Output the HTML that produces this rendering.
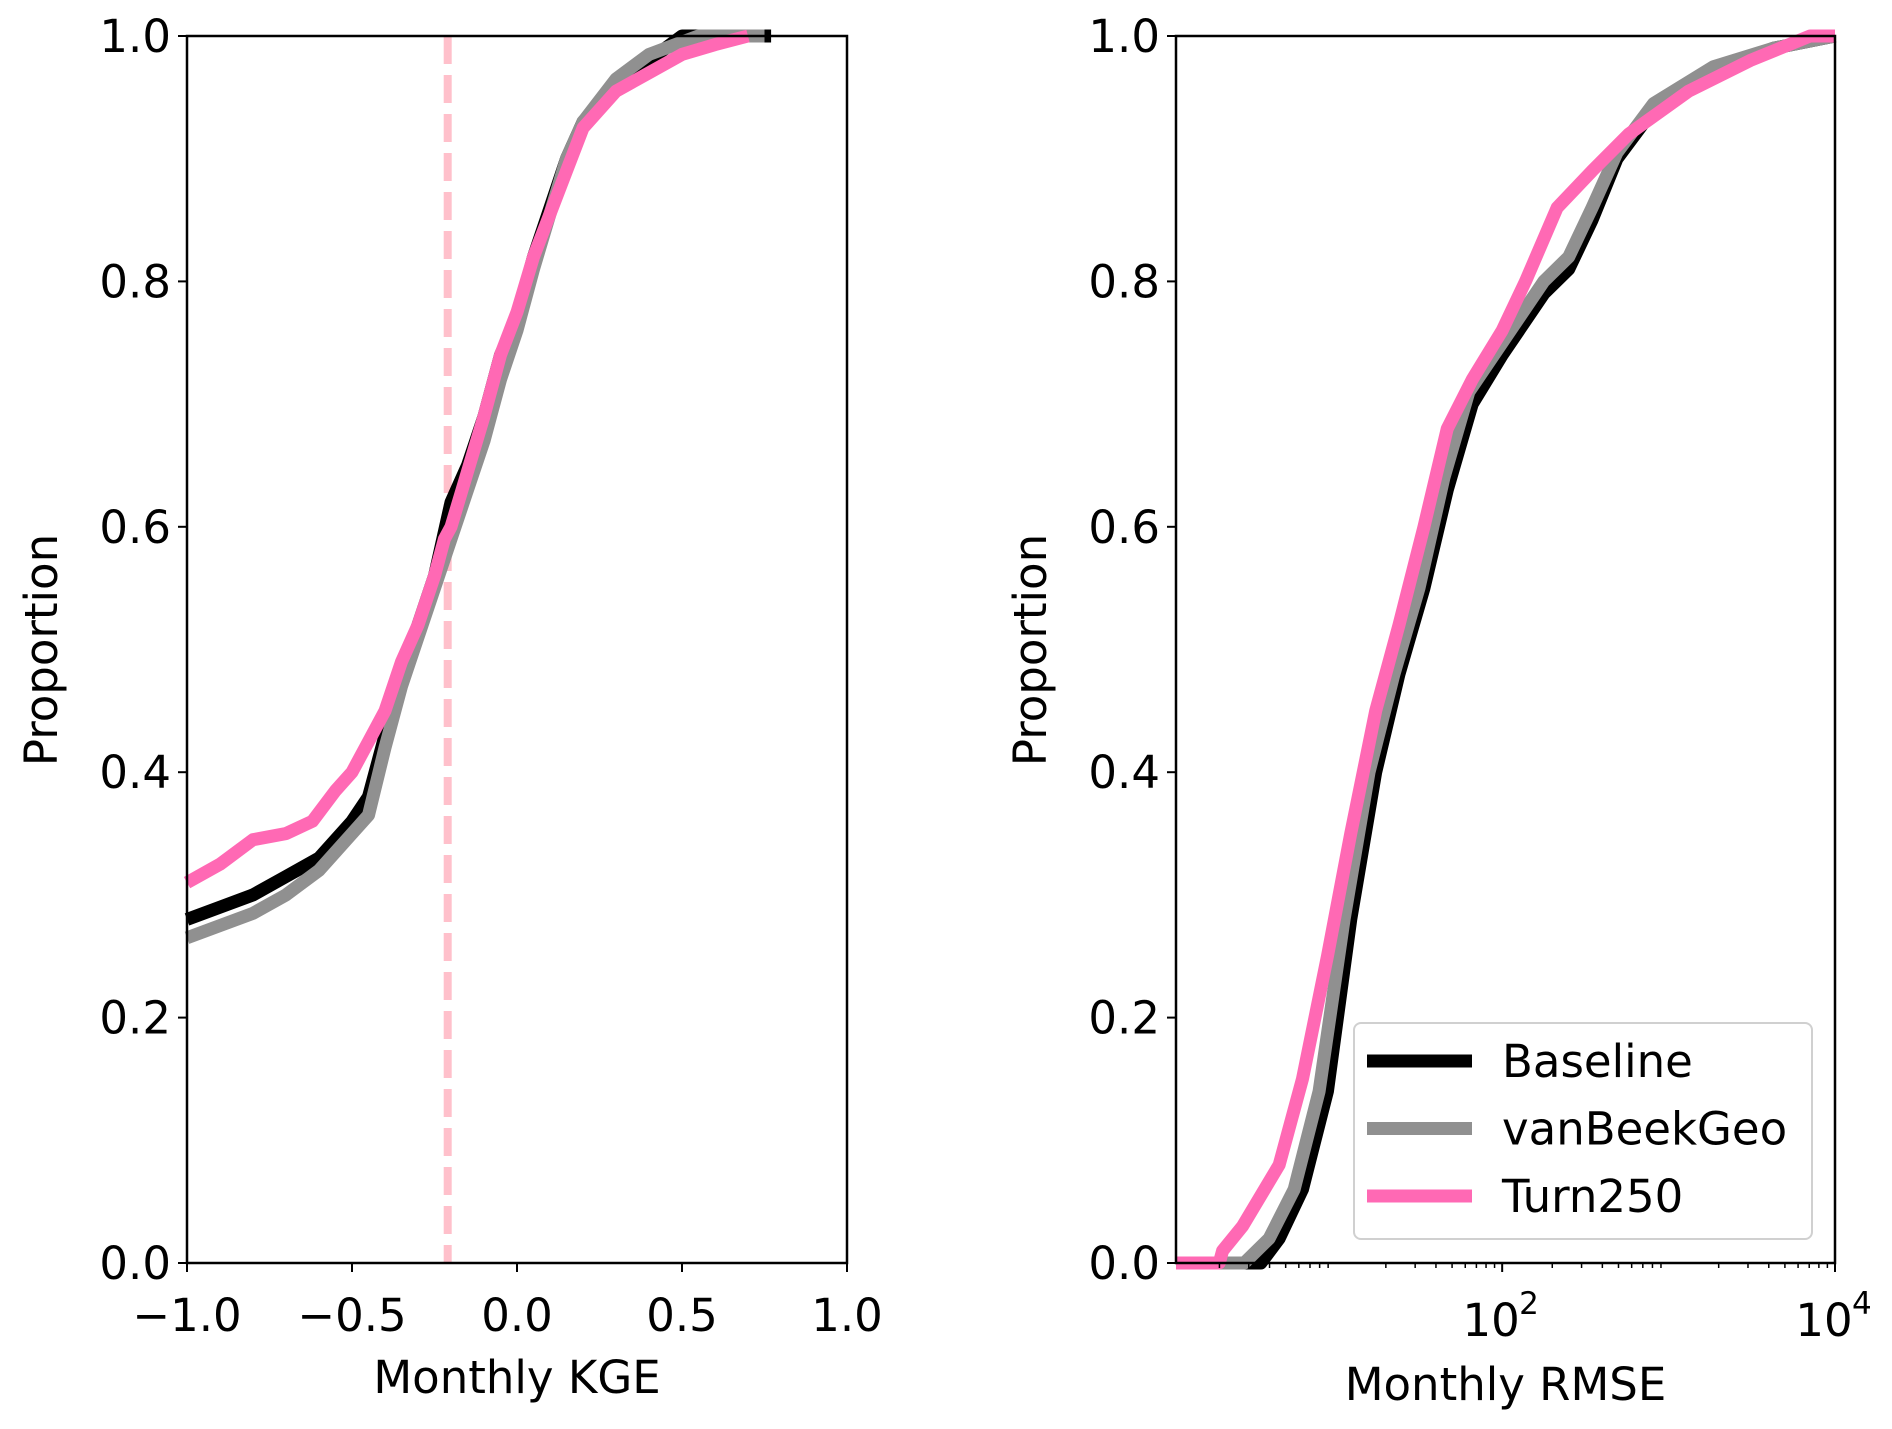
<!DOCTYPE html>
<html><head><meta charset="utf-8"><style>
html,body{margin:0;padding:0;background:#fff;}
svg{display:block;font-family:"DejaVu Sans","Liberation Sans",sans-serif;}
</style></head><body>
<svg id="fig" width="1892" height="1429" viewBox="0 0 1892 1429" xmlns="http://www.w3.org/2000/svg">
<g id="left"></g>
<g id="right"></g>
</svg>
<script>
const kgeBaseX=[-1,-0.9,-0.8,-0.7,-0.6,-0.5,-0.45,-0.4,-0.35,-0.3,-0.25,-0.2,-0.15,-0.1,-0.05,0,0.05,0.1,0.15,0.2,0.3,0.4,0.45,0.5,0.77];
const kgeBaseY=[0.28,0.29,0.30,0.315,0.33,0.36,0.38,0.43,0.48,0.52,0.56,0.62,0.65,0.69,0.74,0.77,0.82,0.86,0.9,0.93,0.96,0.98,0.99,1.0,1.0];
const kgeVanX=[-1,-0.9,-0.8,-0.7,-0.6,-0.5,-0.45,-0.4,-0.35,-0.3,-0.25,-0.2,-0.15,-0.1,-0.05,0,0.05,0.1,0.15,0.2,0.3,0.4,0.5,0.55,0.75];
const kgeVanY=[0.265,0.275,0.285,0.30,0.32,0.35,0.365,0.42,0.47,0.51,0.55,0.59,0.63,0.67,0.72,0.76,0.81,0.855,0.9,0.93,0.965,0.985,0.995,1.0,1.0];
const kgeTurnX=[-1,-0.9,-0.8,-0.7,-0.62,-0.55,-0.5,-0.45,-0.4,-0.35,-0.3,-0.25,-0.22,-0.2,-0.15,-0.1,-0.05,0,0.05,0.1,0.15,0.2,0.3,0.4,0.5,0.6,0.7];
const kgeTurnY=[0.31,0.325,0.345,0.35,0.36,0.385,0.40,0.425,0.45,0.49,0.52,0.56,0.59,0.6,0.645,0.69,0.74,0.775,0.82,0.855,0.89,0.925,0.955,0.97,0.985,0.993,1.0];
const kgeThreshold=-0.21;
const rmseTurnLog=[0.04,0.3,0.32,0.44,0.66,0.80,0.95,1.09,1.24,1.38,1.53,1.67,1.82,2.0,2.14,2.33,2.54,2.76,3.12,3.49,3.85,4];
const rmseTurnY=[0,0,0.01,0.03,0.08,0.15,0.25,0.35,0.45,0.52,0.6,0.68,0.72,0.76,0.8,0.86,0.89,0.92,0.955,0.98,1.0,1.0];
const rmseBaseLog=[0.04,0.55,0.66,0.80,0.95,1.09,1.24,1.38,1.53,1.67,1.82,2.0,2.25,2.4,2.54,2.69,2.91,3.27,3.63,4];
const rmseBaseY=[0,0,0.02,0.06,0.14,0.28,0.4,0.48,0.55,0.63,0.7,0.74,0.79,0.81,0.85,0.9,0.94,0.97,0.99,1.0];
const rmseVanLog=[0.04,0.45,0.6,0.75,0.9,1.05,1.2,1.35,1.5,1.65,1.8,2.0,2.25,2.4,2.54,2.69,2.91,3.27,3.63,4];
const rmseVanY=[0,0,0.02,0.06,0.14,0.28,0.4,0.48,0.55,0.64,0.71,0.75,0.8,0.82,0.86,0.905,0.945,0.975,0.99,1.0];
const yTicks=[0,0.2,0.4,0.6,0.8,1.0];
const yTickLabels=["0.0","0.2","0.4","0.6","0.8","1.0"];
const kgeTicks=[-1,-0.5,0,0.5,1];
const kgeTickLabels=["\u22121.0","\u22120.5","0.0","0.5","1.0"];
const rmseTicks=[2,4];
const seriesNames=["Baseline","vanBeekGeo","Turn250"];
const seriesColors=["#000000","#909090","#ff69b4"];

const NS="http://www.w3.org/2000/svg";
const FS=45;
function mk(p,tag,attrs){const e=document.createElementNS(NS,tag);for(const k in attrs)e.setAttribute(k,attrs[k]);p.appendChild(e);return e;}
const Y0=1263,Y1=36;
const sy=v=>Y0+(Y1-Y0)*v;
const L={x0:187,x1:847}, R={x0:1176,x1:1835};
const sxL=v=>L.x0+(v+1)/2*(L.x1-L.x0);
const sxR=l=>R.x0+(l-0.04)/(4-0.04)*(R.x1-R.x0);
function line(xs,ys,fx){return xs.map((x,i)=>(i?"L":"M")+fx(x)+","+sy(ys[i])).join(" ");}
function axes(g,P){
  yTicks.forEach((t,i)=>{
    const tk=mk(g,"line",{x1:P.x0-9,x2:P.x0,y1:sy(t),y2:sy(t),stroke:"#000","stroke-width":2});
    
    
    const tx=mk(g,"text",{x:P.x0-16,y:sy(t)+16,"text-anchor":"end","font-size":FS});
    tx.textContent=yTickLabels[i];
    
    
  });
  const yl=mk(g,"text",{x:0,y:0,"text-anchor":"middle","font-size":FS,transform:`translate(${P.x0-130},650) rotate(-90)`});
  yl.textContent="Proportion";
  
  
}
function frame(g,P){const r=mk(g,"rect",{x:P.x0,y:Y1,width:P.x1-P.x0,height:Y0-Y1,fill:"none",stroke:"#000","stroke-width":2.5});

}

// left
const gl=document.getElementById("left");
const dash=mk(gl,"line",{x1:sxL(kgeThreshold),x2:sxL(kgeThreshold),y1:Y1,y2:Y0,stroke:"#ffc0cb","stroke-width":8,"stroke-dasharray":"28,11"});


[[kgeBaseX,kgeBaseY],[kgeVanX,kgeVanY],[kgeTurnX,kgeTurnY]].forEach((s,i)=>{
  const p=mk(gl,"path",{d:line(s[0],s[1],sxL),fill:"none",stroke:seriesColors[i],"stroke-width":13,"stroke-linejoin":"round"});
  
  
});
frame(gl,L);axes(gl,L);
kgeTicks.forEach((t,i)=>{
  const tk=mk(gl,"line",{x1:sxL(t),x2:sxL(t),y1:Y0,y2:Y0+9,stroke:"#000","stroke-width":2});
  
  
  const tx=mk(gl,"text",{x:sxL(t),y:1331,"text-anchor":"middle","font-size":FS});
  tx.textContent=kgeTickLabels[i];
  
  
});
const xl=mk(gl,"text",{x:(L.x0+L.x1)/2,y:1393,"text-anchor":"middle","font-size":FS});
xl.textContent="Monthly KGE";



// right
const gr=document.getElementById("right");
[[rmseBaseLog,rmseBaseY],[rmseVanLog,rmseVanY],[rmseTurnLog,rmseTurnY]].forEach((s,i)=>{
  const p=mk(gr,"path",{d:line(s[0],s[1],sxR),fill:"none",stroke:seriesColors[i],"stroke-width":13,"stroke-linejoin":"round"});
  
  
});
frame(gr,R);axes(gr,R);
rmseTicks.forEach(t=>{
  const tk=mk(gr,"line",{x1:sxR(t),x2:sxR(t),y1:Y0,y2:Y0+9,stroke:"#000","stroke-width":2});
  
  
  const tx=mk(gr,"text",{x:sxR(t)-11,y:1336,"text-anchor":"middle","font-size":FS});
  tx.textContent="10";
  
  
  const sup=mk(gr,"text",{x:sxR(t)+17,y:1314,"font-size":31});
  sup.textContent=String(t);
  
  
});
for(let d=0;d<4;d++)for(let m=2;m<10;m++){const l=d+Math.log10(m);if(l<0.04)continue;
  const tk=mk(gr,"line",{x1:sxR(l),x2:sxR(l),y1:Y0,y2:Y0+5,stroke:"#000","stroke-width":1.5});
  
  }
const xr=mk(gr,"text",{x:(R.x0+R.x1)/2,y:1400,"text-anchor":"middle","font-size":FS});
xr.textContent="Monthly RMSE";



// legend
const lg=mk(gr,"g",{});


mk(lg,"rect",{x:1354,y:1023,width:458,height:216,rx:7,fill:"#fff","fill-opacity":0.8,stroke:"#d0d0d0","stroke-width":2});
seriesNames.forEach((n,i)=>{
  const yy=1061+i*67.5;
  const e=mk(lg,"g",{});
  
  
  mk(e,"line",{x1:1367,x2:1472,y1:yy,y2:yy,stroke:seriesColors[i],"stroke-width":13});
  const t=mk(e,"text",{x:1502,y:yy+16,"font-size":FS});
  t.textContent=n;
});
</script>
</body></html>
